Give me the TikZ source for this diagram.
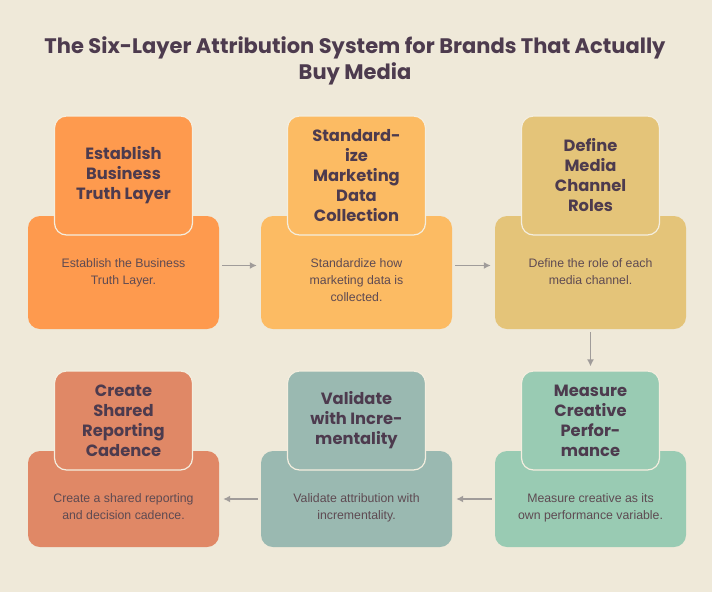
\documentclass[tikz,border=0pt]{standalone}
\usepackage{fontspec}
\setmainfont{Liberation Sans}
\newfontfamily\headfont{Poppins}
\usepackage{tikz}
\usetikzlibrary{arrows.meta}

\definecolor{paper}{HTML}{EFE9D9}
\definecolor{ink}{HTML}{4D3B4E}
\definecolor{bodyink}{HTML}{5E4A52}
\definecolor{edge}{HTML}{F4EEDF}
\definecolor{arrowgray}{HTML}{A09C9A}
\definecolor{cOne}{HTML}{FE9A4E}
\definecolor{cTwo}{HTML}{FCBB63}
\definecolor{cThree}{HTML}{E4C479}
\definecolor{cFour}{HTML}{99CBB3}
\definecolor{cFive}{HTML}{9AB9B1}
\definecolor{cSix}{HTML}{E08866}

\begin{document}
\begin{tikzpicture}[x=1pt,y=-1pt,
  base/.style={rounded corners=12pt,minimum width=191pt,minimum height=113pt,inner sep=0pt},
  head/.style={rounded corners=12pt,draw=edge,line width=1.2pt,minimum width=138pt,
    minimum height=119pt,align=center,text=ink,font=\headfont\bfseries\fontsize{16.3}{20}\selectfont},
  txt/.style={align=center,text=bodyink,anchor=north,font=\fontsize{12.3}{16.8}\selectfont},
  flow/.style={-{Latex[length=7pt,width=7pt]},arrowgray,line width=1.7pt,shorten >=4pt,shorten <=3pt}]

% background and frame
\fill[paper] (0,0) rectangle (712,592);
\useasboundingbox (0,0) rectangle (712,592);

% title
\node[text=ink,align=center,font=\headfont\bfseries\fontsize{21}{26}\selectfont] (title) at (355,61)
  {The Six-Layer Attribution System for Brands That Actually\\Buy Media};

% first row
\node[base,fill=cOne] (est) at (123.5,272.5) {};
\node[base,fill=cTwo] (std) at (356.5,272.5) {};
\node[base,fill=cThree] (def) at (590.5,272.5) {};
\node[head,fill=cOne] (estT) at (123.5,175.5) {Establish\\Business\\Truth Layer};
\node[head,fill=cTwo] (stdT) at (356.5,175.5) {Standard-\\ize\\Marketing\\Data\\Collection};
\node[head,fill=cThree] (defT) at (590.5,175.5) {Define\\Media\\Channel\\Roles};
\node[txt] (estB) at (123.5,255) {Establish the Business\\Truth Layer.};
\node[txt] (stdB) at (356.5,255) {Standardize how\\marketing data is\\collected.};
\node[txt] (defB) at (590.5,255) {Define the role of each\\media channel.};

% second row
\node[base,fill=cFour,minimum height=96pt] (mea) at (590.5,499) {};
\node[base,fill=cFive,minimum height=96pt] (val) at (356.5,499) {};
\node[base,fill=cSix,minimum height=96pt] (cre) at (123.5,499) {};
\node[head,fill=cFour,minimum height=99pt] (meaT) at (590.5,420.5) {Measure\\Creative\\Perfor-\\mance};
\node[head,fill=cFive,minimum height=99pt] (valT) at (356.5,420.5) {Validate\\with Incre-\\mentality};
\node[head,fill=cSix,minimum height=99pt] (creT) at (123.5,420.5) {Create\\Shared\\Reporting\\Cadence};
\node[txt] (meaB) at (590.5,490) {Measure creative as its\\own performance variable.};
\node[txt] (valB) at (356.5,490) {Validate attribution with\\incrementality.};
\node[txt] (creB) at (123.5,490) {Create a shared reporting\\and decision cadence.};

% arrows between the layers
\draw[flow] ([yshift=7pt]est.east) -- ([yshift=7pt]std.west);
\draw[flow] ([yshift=7pt]std.east) -- ([yshift=7pt]def.west);
\draw[flow] (def.south) -- (meaT.north);
\draw[flow] (mea.west) -- (val.east);
\draw[flow] (val.west) -- (cre.east);

\end{tikzpicture}
\end{document}
